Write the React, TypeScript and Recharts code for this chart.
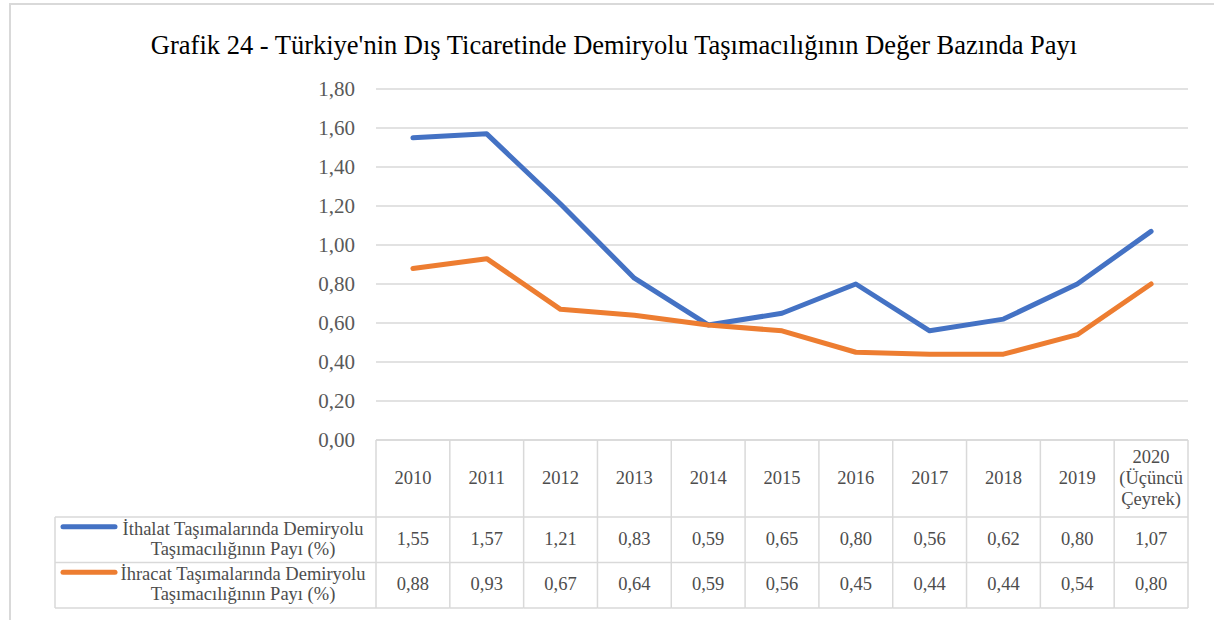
import React from "react";
import { LineChart, Line, XAxis, YAxis, CartesianGrid } from "recharts";

const years = ["2010", "2011", "2012", "2013", "2014", "2015", "2016", "2017", "2018", "2019", "2020"];
const yearLabels = [["2010"], ["2011"], ["2012"], ["2013"], ["2014"], ["2015"], ["2016"], ["2017"], ["2018"], ["2019"], ["2020", "(Üçüncü", "Çeyrek)"]];
const ithalat = [1.55, 1.57, 1.21, 0.83, 0.59, 0.65, 0.8, 0.56, 0.62, 0.8, 1.07];
const ihracat = [0.88, 0.93, 0.67, 0.64, 0.59, 0.56, 0.45, 0.44, 0.44, 0.54, 0.8];
const yTicks = [0, 0.2, 0.4, 0.6, 0.8, 1.0, 1.2, 1.4, 1.6, 1.8];

const seriesNames = [
    ["İthalat Taşımalarında Demiryolu", "Taşımacılığının Payı (%)"],
    ["İhracat Taşımalarında Demiryolu", "Taşımacılığının Payı (%)"],
];

const data = years.map((y, i) => ({ year: y, ithalat: ithalat[i], ihracat: ihracat[i] }));

const W = 1214;
const H = 620;
const PLOT_LEFT = 376;
const PLOT_RIGHT = 1188;
const PLOT_TOP = 89;
const PLOT_BOTTOM = 440;
const COL_W = (PLOT_RIGHT - PLOT_LEFT) / years.length;
const HEAD_H = 77;
const ROW_H = 45.5;
const LEGEND_LEFT = 55;

const BLUE = "#4472C4";
const ORANGE = "#ED7D31";
const GRID = "#D9D9D9";
const TEXT = "#4d4d4d";
const FONT = "'Liberation Serif', 'Times New Roman', serif";

const fmt = (v: number) => v.toFixed(2).replace(".", ",");

const TableTick = (props: any) => {
    const { x, y, payload } = props;
    const i = payload.index;
    const left = x - COL_W / 2;
    const right = x + COL_W / 2;
    const top = y;
    const r1 = top + HEAD_H;
    const r2 = r1 + ROW_H;
    const r3 = r2 + ROW_H;
    const labels = yearLabels[i];
    const lh = 21;
    const headMid = top + HEAD_H / 2 - 1;
    const rows = [ithalat[i], ihracat[i]];
    return (
        <g fontFamily={FONT} fontSize={18.5} fill={TEXT}>
            <line x1={left} x2={right} y1={top} y2={top} stroke={GRID} strokeWidth={1.5} />
            <line x1={left} x2={right} y1={r1} y2={r1} stroke={GRID} strokeWidth={1.5} />
            <line x1={left} x2={right} y1={r2} y2={r2} stroke={GRID} strokeWidth={1.5} />
            <line x1={left} x2={right} y1={r3} y2={r3} stroke={GRID} strokeWidth={1.5} />
            <line x1={right} x2={right} y1={top} y2={r3} stroke={GRID} strokeWidth={1.5} />
            {i === 0 && <line x1={left} x2={left} y1={top} y2={r3} stroke={GRID} strokeWidth={1.5} />}
            {labels.map((t, k) => (
                <text
                    key={k}
                    x={x}
                    y={headMid + (k - (labels.length - 1) / 2) * lh}
                    textAnchor="middle"
                    dominantBaseline="central"
                >
                    {t}
                </text>
            ))}
            {rows.map((v, k) => (
                <text
                    key={k}
                    x={x}
                    y={r1 + ROW_H * k + ROW_H / 2 - 1}
                    textAnchor="middle"
                    dominantBaseline="central"
                >
                    {fmt(v)}
                </text>
            ))}
            {i === 0 && (
                <g>
                    <line x1={LEGEND_LEFT} x2={left} y1={r1} y2={r1} stroke={GRID} strokeWidth={1.5} />
                    <line x1={LEGEND_LEFT} x2={left} y1={r2} y2={r2} stroke={GRID} strokeWidth={1.5} />
                    <line x1={LEGEND_LEFT} x2={left} y1={r3} y2={r3} stroke={GRID} strokeWidth={1.5} />
                    <line x1={LEGEND_LEFT} x2={LEGEND_LEFT} y1={r1} y2={r3} stroke={GRID} strokeWidth={1.5} />
                    {seriesNames.map((lines, k) => {
                        const cy = r1 + ROW_H * k + ROW_H / 2;
                        return (
                            <g key={k}>
                                <line
                                    x1={63}
                                    x2={115}
                                    y1={cy - 13}
                                    y2={cy - 13}
                                    stroke={k === 0 ? BLUE : ORANGE}
                                    strokeWidth={5}
                                    strokeLinecap="round"
                                />
                                <text x={243} y={cy - 11} textAnchor="middle" dominantBaseline="central">
                                    {lines[0]}
                                </text>
                                <text x={243} y={cy + 9} textAnchor="middle" dominantBaseline="central">
                                    {lines[1]}
                                </text>
                            </g>
                        );
                    })}
                </g>
            )}
        </g>
    );
};

export default function App() {
    return (
        <div
            style={{
                position: "fixed",
                left: 0,
                top: 0,
                width: W,
                height: H,
                background: "#fff",
                overflow: "hidden",
            }}
        >
            <div
                style={{
                    position: "absolute",
                    left: 9,
                    top: 3,
                    width: W + 50,
                    height: H + 50,
                    border: `2px solid ${GRID}`,
                    boxSizing: "border-box",
                }}
            />
            <div
                style={{
                    position: "absolute",
                    left: 0,
                    top: 29,
                    width: W,
                    textAlign: "center",
                    fontFamily: FONT,
                    fontSize: 26.5,
                    lineHeight: "32px",
                    color: "#000",
                    paddingLeft: 14,
                    boxSizing: "border-box",
                    whiteSpace: "nowrap",
                }}
            >
                Grafik 24 - Türkiye'nin Dış Ticaretinde Demiryolu Taşımacılığının Değer Bazında Payı
            </div>
            <div style={{ position: "absolute", left: 0, top: 0 }}>
                <LineChart
                    width={W}
                    height={H}
                    data={data}
                    margin={{ top: PLOT_TOP, right: W - PLOT_RIGHT, left: 0, bottom: 0 }}
                >
                    <CartesianGrid vertical={false} stroke={GRID} strokeWidth={1.5} />
                    <XAxis
                        dataKey="year"
                        scale="band"
                        interval={0}
                        height={H - PLOT_BOTTOM}
                        axisLine={false}
                        tickLine={false}
                        tickSize={0}
                        tickMargin={0}
                        tick={<TableTick />}
                    />
                    <YAxis
                        width={PLOT_LEFT}
                        domain={[0, 1.8]}
                        ticks={yTicks}
                        interval={0}
                        axisLine={false}
                        tickLine={false}
                        tickSize={0}
                        tickMargin={21}
                        tickFormatter={(v: number) => fmt(v)}
                        tick={{ fontFamily: FONT, fontSize: 21, fill: "#595959" }}
                    />
                    <Line
                        type="linear"
                        dataKey="ithalat"
                        stroke={BLUE}
                        strokeWidth={5}
                        dot={false}
                        strokeLinejoin="round"
                        strokeLinecap="round"
                        isAnimationActive={false}
                    />
                    <Line
                        type="linear"
                        dataKey="ihracat"
                        stroke={ORANGE}
                        strokeWidth={5}
                        dot={false}
                        strokeLinejoin="round"
                        strokeLinecap="round"
                        isAnimationActive={false}
                    />
                </LineChart>
            </div>
        </div>
    );
}
